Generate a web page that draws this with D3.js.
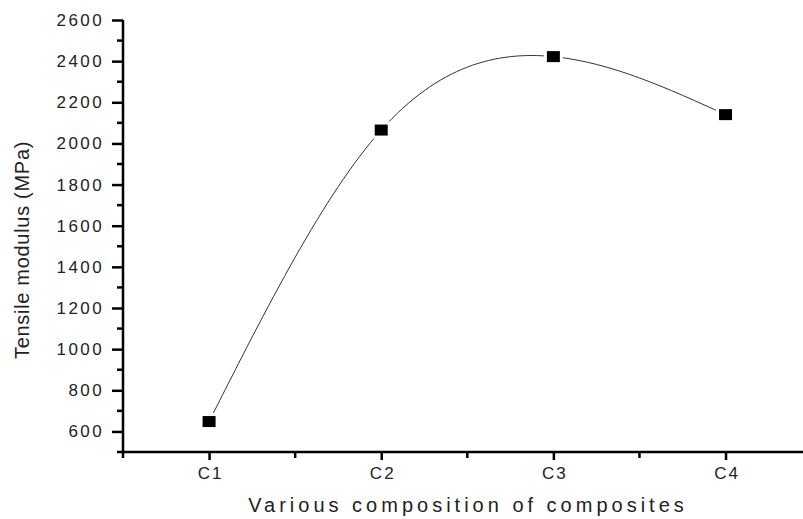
<!DOCTYPE html>
<html>
<head>
<meta charset="utf-8">
<script src="https://cdn.jsdelivr.net/npm/d3@7"></script>
<style>
  body { margin: 0; background: #fff; }
  text { font-family: "Liberation Sans", Arial, sans-serif; fill: #222; }
</style>
</head>
<body>
<script>
// composites and their tensile modulus (MPa)
var categories = ["C1", "C2", "C3", "C4"];
var modulus = [648, 2065, 2422, 2140];
var yMajor = [600, 800, 1000, 1200, 1400, 1600, 1800, 2000, 2200, 2400, 2600];
var yMinor = [500, 700, 900, 1100, 1300, 1500, 1700, 1900, 2100, 2300, 2500];
var xMinor = [0.5, 1.5, 2.5, 3.5];

var W = 803, H = 519;
var padL = 123, padT = 20, axisY = 452, padR = 803;

var svg = d3.select("body").append("svg")
    .attr("width", W)
    .attr("height", H);

var x = d3.scaleLinear().domain([0.5, 4.45]).range([padL, padR]);
var y = d3.scaleLinear().domain([500, 2600]).range([axisY, padT]);

var pts = categories.map(function (c, i) { return { i: i + 1, v: modulus[i] }; });

// spline through the points
var line = d3.line()
    .x(function (d) { return x(d.i); })
    .y(function (d) { return y(d.v); })
    .curve(d3.curveNatural);

svg.append("path")
    .datum(pts)
    .attr("d", line)
    .attr("fill", "none")
    .attr("stroke", "#333")
    .attr("stroke-width", 1);

// markers, white halo leaves a gap in the line like the original
svg.selectAll(".pt")
    .data(pts)
  .enter().append("rect")
    .attr("class", "pt")
    .attr("x", function (d) { return x(d.i) - 6.5; })
    .attr("y", function (d) { return y(d.v) - 5.5; })
    .attr("width", 13)
    .attr("height", 11)
    .attr("fill", "#000")
    .attr("stroke", "#fff")
    .attr("stroke-width", 6)
    .style("paint-order", "stroke");

// y axis
var yAxis = d3.axisLeft(y).tickValues(yMajor).tickFormat(d3.format("d")).tickSize(11).tickPadding(8);
var gy = svg.append("g")
    .attr("transform", "translate(" + padL + ",0)")
    .call(yAxis)
    .attr("font-size", 17);
gy.selectAll(".tick text").style("letter-spacing", "2.4px");
gy.selectAll(".tick line").attr("stroke", "#000").attr("stroke-width", 2.5);
gy.select(".domain").remove();
gy.selectAll(".minor")
    .data(yMinor)
  .enter().append("line")
    .attr("class", "minor")
    .attr("x1", -6).attr("x2", 0)
    .attr("y1", function (d) { return y(d); })
    .attr("y2", function (d) { return y(d); })
    .attr("stroke", "#000")
    .attr("stroke-width", 2.5);

// x axis
var xAxis = d3.axisBottom(x)
    .tickValues([1, 2, 3, 4])
    .tickFormat(function (d) { return categories[d - 1]; })
    .tickSize(8)
    .tickPadding(7);
var gx = svg.append("g")
    .attr("transform", "translate(0," + axisY + ")")
    .call(xAxis)
    .attr("font-size", 17);
gx.selectAll(".tick text").style("letter-spacing", "2px").attr("dx", 1);
gx.selectAll(".tick line").attr("stroke", "#000").attr("stroke-width", 2.5);
gx.select(".domain").remove();
gx.selectAll(".minor")
    .data(xMinor)
  .enter().append("line")
    .attr("class", "minor")
    .attr("y1", 0).attr("y2", 6)
    .attr("x1", function (d) { return x(d); })
    .attr("x2", function (d) { return x(d); })
    .attr("stroke", "#000")
    .attr("stroke-width", 2.5);

// axis lines
svg.append("line")
    .attr("x1", padL).attr("x2", padL)
    .attr("y1", padT).attr("y2", axisY + 1)
    .attr("stroke", "#000").attr("stroke-width", 2.5);
svg.append("line")
    .attr("x1", padL - 1).attr("x2", padR)
    .attr("y1", axisY).attr("y2", axisY)
    .attr("stroke", "#000").attr("stroke-width", 2.5);

// labels
svg.append("text")
    .attr("transform", "translate(29,250) rotate(-90)")
    .attr("text-anchor", "middle")
    .style("font-size", "20px")
    .style("letter-spacing", "0.7px")
    .text("Tensile modulus (MPa)");

svg.append("text")
    .attr("x", 468)
    .attr("y", 512)
    .attr("text-anchor", "middle")
    .style("font-size", "20px")
    .style("letter-spacing", "4px")
    .text("Various composition of composites");
</script>
</body>
</html>
